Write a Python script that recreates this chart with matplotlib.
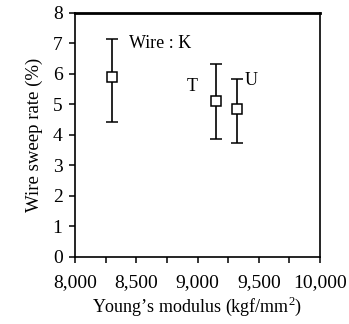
import numpy as np
import matplotlib.pyplot as plt
from matplotlib.ticker import MultipleLocator, FuncFormatter

# data
wires = ["K", "T", "U"]
modulus = [8300, 9150, 9320]
sweep = [5.9, 5.1, 4.85]
err_hi = [7.15, 6.33, 5.83]
err_lo = [4.42, 3.87, 3.75]

plt.rcParams['font.family'] = ['Liberation Serif', 'DejaVu Serif']
plt.rcParams['mathtext.fontset'] = 'custom'
plt.rcParams['mathtext.rm'] = 'Liberation Serif'

fig = plt.figure(figsize=(3.49, 3.24), dpi=100)
ax = fig.add_axes([0.215, 0.207, 0.702, 0.753])

yerr = [np.array(sweep) - np.array(err_lo), np.array(err_hi) - np.array(sweep)]
ax.errorbar(modulus, sweep, yerr=yerr, fmt='s', mfc='white', mec='black',
            ms=7, mew=1.1, ecolor='black', elinewidth=1.2, capsize=4,
            capthick=1.2, color='black')

ax.set_xlim(8000, 10000)
ax.set_ylim(0, 8)
ax.xaxis.set_major_locator(MultipleLocator(250))
ax.xaxis.set_major_formatter(FuncFormatter(
    lambda v, p: f"{int(v):,}" if int(v) % 500 == 0 else ""))
ax.yaxis.set_major_locator(MultipleLocator(1))
ax.tick_params(direction='out', length=4, width=1.1, labelsize=14)
ax.tick_params(axis='x', pad=8)
ax.tick_params(axis='y', pad=5)

for s in ax.spines.values():
    s.set_linewidth(1.2)
ax.spines['top'].set_linewidth(2.0)

ax.set_xlabel("Young\u2019s modulus (kgf/mm$^{\\mathrm{2}}$)", fontsize=13, labelpad=3)
ax.set_ylabel("Wire sweep rate (%)", fontsize=13.5, labelpad=7)

ax.text(8440, 7.0, "Wire : K", fontsize=13, va='center', ha='left')
ax.text(8960, 5.6, "T", fontsize=13, va='center', ha='center')
ax.text(9440, 5.8, "U", fontsize=13, va='center', ha='center')

fig.savefig("out.png", dpi=100)
